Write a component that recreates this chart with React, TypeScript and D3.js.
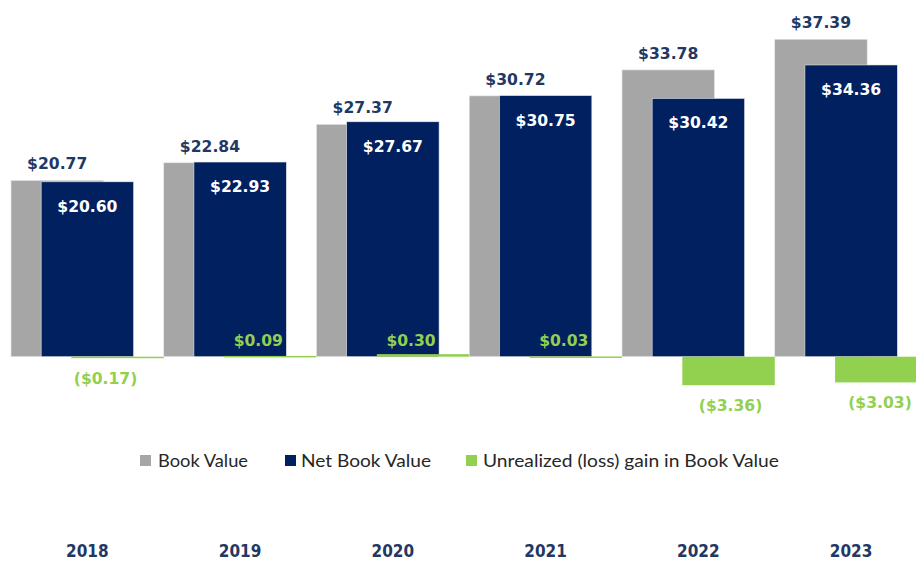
import React from "react";
import * as d3 from "d3";

const years = ["2018", "2019", "2020", "2021", "2022", "2023"];
const bookValue = [20.77, 22.84, 27.37, 30.72, 33.78, 37.39];
const netBookValue = [20.6, 22.93, 27.67, 30.75, 30.42, 34.36];
const unrealized = [-0.17, 0.09, 0.3, 0.03, -3.36, -3.03];
const seriesNames = ["Book Value", "Net Book Value", "Unrealized (loss) gain in Book Value"];

const W = 916;
const H = 562;
const colors = ["#A6A6A6", "#002060", "#92D050"];
const navyText = "#1F3864";

const fmt = (v: number) => (v < 0 ? `($${Math.abs(v).toFixed(2)})` : `$${v.toFixed(2)}`);

export default function App() {
  const x = d3.scaleBand<string>().domain(years).range([11, 11 + 6 * 152.75]).padding(0);
  const bw = x.bandwidth();
  const barW = bw * 0.605;
  const step = (bw - barW) / 2;
  const y = d3.scaleLinear().domain([-5, 40]).range([356.7 + 5 * 8.49, 356.7 - 40 * 8.49]);
  const y0 = y(0);

  const valueFont = { fontFamily: "DejaVu Sans", fontWeight: 700, fontSize: 15.6 } as const;

  const legendItems = [
    { sx: 140, tx: 158, tl: 90 },
    { sx: 285, tx: 301, tl: 130 },
    { sx: 466, tx: 483, tl: 296 },
  ];

  return (
    <svg width={W} height={H} style={{ position: "absolute", left: 0, top: 0, background: "#fff" }}>
      {years.map((yr, i) => {
        const gx = x(yr)!;
        const bx = gx;
        const nx = gx + step;
        const ux = gx + 2 * step;
        const u = unrealized[i];
        const uTop = Math.min(y(u), y0);
        const uH = Math.max(Math.abs(y(u) - y0), 1.5);
        const rawLabelX = ux + barW / 2 - (Math.abs(u) < 1 ? 12 : -2);
        const uLabelX = Math.min(rawLabelX, W - 36);
        return (
          <g key={yr}>
            <rect x={bx} y={y(bookValue[i])} width={barW} height={y0 - y(bookValue[i])} fill={colors[0]} stroke="#e6e6e6" strokeWidth={0.6} />
            <rect x={nx} y={y(netBookValue[i])} width={barW} height={y0 - y(netBookValue[i])} fill={colors[1]} stroke="#e6e6e6" strokeWidth={0.6} />
            <rect x={ux} y={uTop} width={barW} height={uH} fill={colors[2]} />
            <text x={bx + barW / 2} y={y(bookValue[i]) - 11} textAnchor="middle" fill={navyText} style={valueFont}>
              {fmt(bookValue[i])}
            </text>
            <text x={nx + barW / 2} y={y(netBookValue[i]) + 30} textAnchor="middle" fill="#ffffff" style={valueFont}>
              {fmt(netBookValue[i])}
            </text>
            <text
              x={uLabelX}
              y={u < 0 ? y(u) + 26 : y0 - 11}
              textAnchor="middle"
              fill={colors[2]}
              style={valueFont}
            >
              {fmt(u)}
            </text>
            <text
              x={gx + bw / 2}
              y={557}
              textAnchor="middle"
              fill={navyText}
              style={{ fontFamily: "DejaVu Sans Condensed, DejaVu Sans", fontWeight: 700, fontSize: 17 }}
            >
              {yr}
            </text>
          </g>
        );
      })}
      {seriesNames.map((name, i) => (
        <g key={name}>
          <rect x={legendItems[i].sx} y={455} width={11} height={11} fill={colors[i]} />
          <text
            x={legendItems[i].tx}
            y={467}
            fill="#262626"
            textLength={legendItems[i].tl}
            lengthAdjust="spacingAndGlyphs"
            style={{ fontFamily: "Lato", fontSize: 17 }}
          >
            {name}
          </text>
        </g>
      ))}
    </svg>
  );
}
